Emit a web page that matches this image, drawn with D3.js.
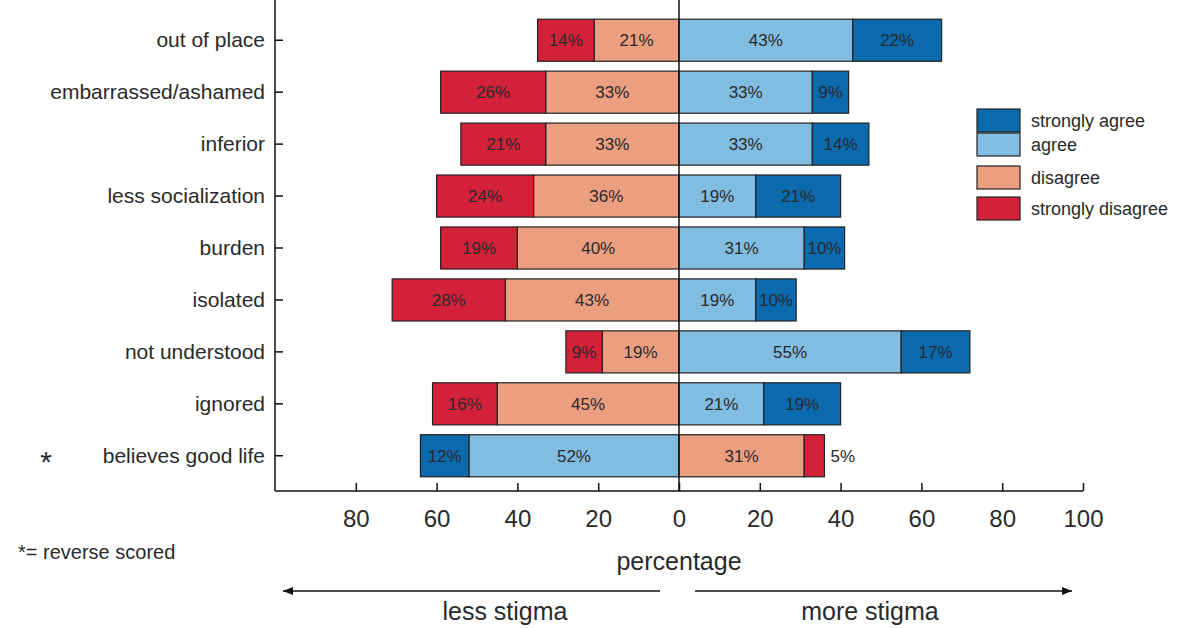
<!DOCTYPE html>
<html><head><meta charset="utf-8">
<script src="https://cdn.jsdelivr.net/npm/d3@7"></script>
<style>body{margin:0;background:#fff}text{font-family:"Liberation Sans",Arial,sans-serif;fill:#2a2a2a}</style>
</head><body>
<script>
const items = ["out of place","embarrassed/ashamed","inferior","less socialization","burden","isolated","not understood","ignored","believes good life"];
const stronglyDisagree = [14,26,21,24,19,28,9,16,5];
const disagree = [21,33,33,36,40,43,19,45,31];
const agree = [43,33,33,19,31,19,55,21,52];
const stronglyAgree = [22,9,14,21,10,10,17,19,12];
const reversed = [false,false,false,false,false,false,false,false,true];
const xTicks = [-80,-60,-40,-20,0,20,40,60,80,100];

const col = {sa:"#0b69ad", a:"#80bde0", d:"#ec9e80", sd:"#d3213a"};
const W = 1200, H = 628;
const svg = d3.select("body").append("svg").attr("width", W).attr("height", H);
const x = d3.scaleLinear().domain([-100,100]).range([275,1083]);
const y = d3.scaleBand().domain(items).range([14,482]).paddingInner(0.19).paddingOuter(0.1);

// segments: negative side then positive side
const segs = [];
items.forEach((it,i) => {
  const neg = reversed[i] ? [[agree[i],"a"],[stronglyAgree[i],"sa"]] : [[disagree[i],"d"],[stronglyDisagree[i],"sd"]];
  const pos = reversed[i] ? [[disagree[i],"d"],[stronglyDisagree[i],"sd"]] : [[agree[i],"a"],[stronglyAgree[i],"sa"]];
  let s = 0;
  neg.forEach(([v,k]) => { segs.push({it,x0:-(s+v),x1:-s,v,k}); s += v; });
  s = 0;
  pos.forEach(([v,k],j) => { segs.push({it,x0:s,x1:s+v,v,k,outside: v<7}); s += v; });
});

svg.selectAll("rect.seg").data(segs).join("rect")
  .attr("x", d => x(d.x0)).attr("width", d => x(d.x1)-x(d.x0))
  .attr("y", d => y(d.it)).attr("height", y.bandwidth())
  .attr("fill", d => col[d.k]).attr("stroke", "#222").attr("stroke-width", 1.2);

svg.selectAll("text.lab").data(segs).join("text")
  .attr("x", d => d.outside ? x(d.x1)+6 : x((d.x0+d.x1)/2))
  .attr("y", d => y(d.it)+y.bandwidth()/2+6)
  .attr("text-anchor", d => d.outside ? "start" : "middle")
  .attr("font-size", 17).text(d => d.v + "%");

// zero line
svg.append("line").attr("x1", x(0)).attr("x2", x(0)).attr("y1", 0).attr("y2", 491).attr("stroke", "#111").attr("stroke-width", 1.5);

// bottom axis
const gx = svg.append("g").attr("transform", "translate(0,491)")
  .call(d3.axisBottom(x).tickValues(xTicks).tickSize(-8).tickPadding(14).tickFormat(d => Math.abs(d)));
gx.select(".domain").attr("stroke", "#111").attr("stroke-width", 1.5).attr("d", `M${x(-100)},0H${x(100)}`);
gx.selectAll(".tick line").attr("stroke", "#111").attr("stroke-width", 1.5);
gx.selectAll(".tick text").attr("font-size", 24).attr("dy", "0.9em").style("font-family","Liberation Sans, Arial").attr("fill","#333");

// left axis
const gy = svg.append("g").attr("transform", `translate(${x(-100)},0)`)
  .call(d3.axisLeft(y).tickSize(-8).tickPadding(10));
gy.select(".domain").attr("stroke", "#111").attr("stroke-width", 1.5).attr("d", "M0,0V491");
gy.selectAll(".tick line").attr("stroke", "#111").attr("stroke-width", 1.5);
gy.selectAll(".tick text").attr("font-size", 21).style("font-family","Liberation Sans, Arial").attr("fill","#333");
svg.append("text").attr("x", 46).attr("y", y("believes good life")+y.bandwidth()/2+16).attr("text-anchor","middle").attr("font-size", 30).text("*");

// legend
const leg = [["strongly agree","sa",109],["agree","a",133],["disagree","d",166],["strongly disagree","sd",197]];
leg.forEach(([t,k,yy]) => {
  svg.append("rect").attr("x", 977).attr("y", yy).attr("width", 43).attr("height", 23).attr("fill", col[k]).attr("stroke", "#222").attr("stroke-width", 1.2);
  svg.append("text").attr("x", 1031).attr("y", yy+18).attr("font-size", 18).text(t);
});

svg.append("text").attr("x", x(0)).attr("y", 570).attr("text-anchor","middle").attr("font-size", 25).text("percentage");
svg.append("text").attr("x", 18).attr("y", 559).attr("font-size", 20).text("*= reverse scored");

svg.append("defs").append("marker").attr("id","ah").attr("viewBox","0 0 10 10").attr("refX",10).attr("refY",5)
  .attr("markerWidth",10).attr("markerHeight",10).attr("markerUnits","userSpaceOnUse").attr("orient","auto")
  .append("path").attr("d","M0,1L10,5L0,9Z").attr("fill","#111");
[[660,283],[695,1072]].forEach(([a,b]) => svg.append("line").attr("x1",a).attr("x2",b).attr("y1",591).attr("y2",591)
  .attr("stroke","#111").attr("stroke-width",1.5).attr("marker-end","url(#ah)"));
svg.append("text").attr("x", 505).attr("y", 620).attr("text-anchor","middle").attr("font-size", 25).text("less stigma");
svg.append("text").attr("x", 870).attr("y", 620).attr("text-anchor","middle").attr("font-size", 25).text("more stigma");
</script>
</body></html>
